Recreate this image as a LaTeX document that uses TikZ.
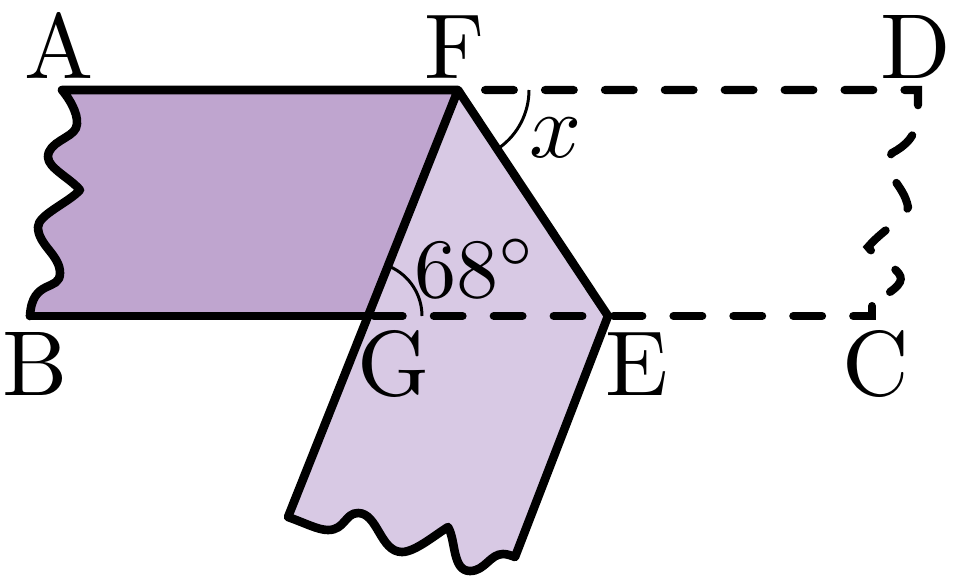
\documentclass[tikz,border=0pt]{standalone}
\usepackage{tikz}
\usetikzlibrary{positioning}
\definecolor{stripdark}{HTML}{BFA5CF}
\definecolor{striplight}{HTML}{D8C9E4}
\tikzset{
  edgeline/.style={line width=4.9pt,line join=round,line cap=round},
  foldline/.style={line width=4.6pt,line join=miter,line cap=round,dash pattern=on 16.4pt off 17.7pt},
  anglearc/.style={line width=1.7pt},
  lab/.style={anchor=base,inner sep=0pt,scale=5.25},
  mathlab/.style={anchor=base,inner sep=0pt,scale=5.2},
  anglelab/.style={anchor=base,inner sep=0pt,scale=4.8}
}
\begin{document}
\begin{tikzpicture}[x=0.02cm,y=0.02cm]
      \useasboundingbox (0,-575) rectangle (953,0);
      \coordinate (A) at (62,-90);
      \coordinate (F) at (458,-90);
      \coordinate (D) at (918,-90);
      \coordinate (B) at (30,-316);
      \coordinate (G) at (368,-316);
      \coordinate (E) at (608,-316);
      \coordinate (C) at (872,-316);
      \coordinate (H) at (288,-517);
      \coordinate (I) at (515,-557);
      \coordinate (J) at (872,-306);

      \fill[striplight] (F) -- (E) -- (I) .. controls (512,-556) and (508,-554) .. (503,-554)
        .. controls (490,-554) and (485,-571) .. (470,-571)
        .. controls (452,-571) and (456,-540) .. (448,-527)
        .. controls (435,-535) and (415,-552) .. (402,-552)
        .. controls (380,-552) and (378,-513) .. (358,-513)
        .. controls (345,-513) and (345,-530) .. (328,-530)
        .. controls (318,-530) and (305,-523) .. (H) -- cycle;
      \fill[stripdark] (A) -- (F) -- (G) -- (B)
        .. controls (32,-278) and (60,-292) .. (60,-273)
        .. controls (60,-255) and (38,-245) .. (38,-227)
        .. controls (38,-215) and (68,-203) .. (80,-190)
        .. controls (70,-178) and (48,-168) .. (48,-157)
        .. controls (48,-142) and (72,-138) .. (76,-128)
        .. controls (80,-118) and (72,-102) .. (A);

      \draw[foldline,dash phase=-15.4pt] (F) -- (D) -- (918,-112)
        .. controls (918,-136) and (905,-146) .. (892,-153)
        .. controls (886,-160) and (888,-170) .. (893,-178)
        .. controls (900,-188) and (906,-196) .. (908,-207)
        .. controls (906,-215) and (898,-221) .. (890,-227)
        .. controls (882,-233) and (874,-240) .. (868,-247)
        .. controls (874,-255) and (884,-260) .. (892,-267)
        .. controls (904,-276) and (904,-282) .. (890,-292);
      \draw[foldline] (J) -- (C) -- (G);

      \draw[edgeline] (B) .. controls (32,-278) and (60,-292) .. (60,-273)
        .. controls (60,-255) and (38,-245) .. (38,-227)
        .. controls (38,-215) and (68,-203) .. (80,-190)
        .. controls (70,-178) and (48,-168) .. (48,-157)
        .. controls (48,-142) and (72,-138) .. (76,-128)
        .. controls (80,-118) and (72,-102) .. (A) -- (F) -- (H)
        .. controls (305,-523) and (318,-530) .. (328,-530)
        .. controls (345,-530) and (345,-513) .. (358,-513)
        .. controls (378,-513) and (380,-552) .. (402,-552)
        .. controls (415,-552) and (435,-535) .. (448,-527)
        .. controls (456,-540) and (452,-571) .. (470,-571)
        .. controls (485,-571) and (490,-554) .. (503,-554)
        .. controls (508,-554) and (512,-556) .. (I) -- (E) -- (F);
      \draw[edgeline] (B) -- (G);

      \draw[anglearc] (F) ++(0:71) arc (0:-54:71);
      \draw[anglearc] (G) ++(0:54) arc (0:66:54);

      \node[lab] (labA) at (59,-78) {A};
      \node[lab] (labF) at (455,-78) {F};
      \node[lab] (labD) at (916,-78) {D};
      \node[lab] (labB) at (35,-395) {B};
      \node[lab] (labG) at (394,-395) {G};
      \node[lab] (labE) at (637,-395) {E};
      \node[lab] (labC) at (876,-395) {C};
      \node[mathlab] (labx) at (556,-157) {$x$};
      \node[anglelab] (labangle) at (476,-297) {$68^\circ$};
    \end{tikzpicture}
\end{document}
